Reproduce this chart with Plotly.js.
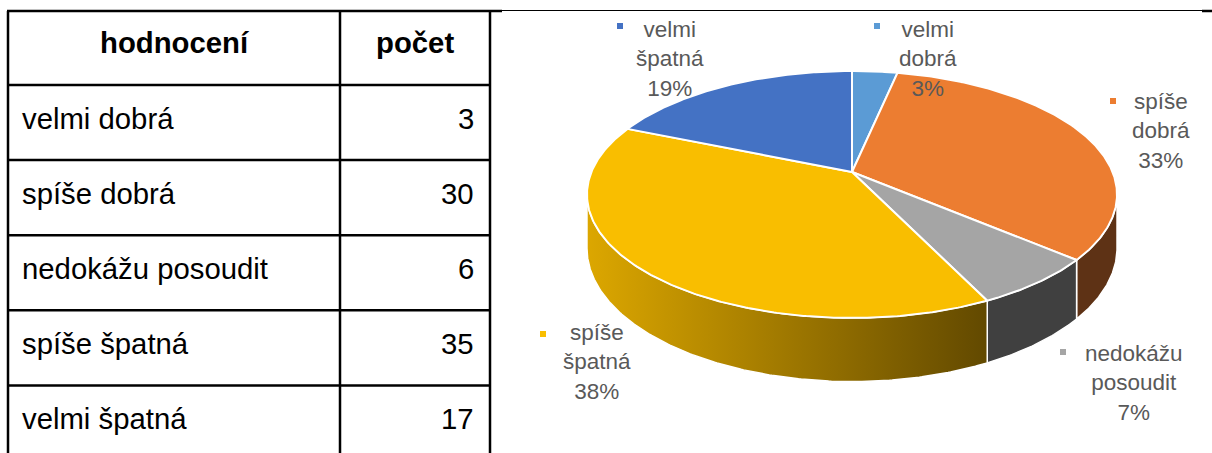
<!DOCTYPE html>
<html>
<head>
<meta charset="utf-8">
<script src="https://cdn.plot.ly/plotly-3.0.1.min.js"></script>
<style>html,body{margin:0;padding:0;background:#fff;}#chart{width:1212px;height:453px;}</style>
</head>
<body>
<div id="chart"></div>
<script>
// ---- data ----
const headers = ['hodnocení', 'počet'];
const categories = ['velmi dobrá', 'spíše dobrá', 'nedokážu posoudit', 'spíše špatná', 'velmi špatná'];
const counts = [3, 30, 6, 35, 17];

// ---- styles / layout config ----
const topColors = ['#5B9BD5', '#EC7D31', '#A5A5A5', '#F9BE00', '#4472C4'];
const wallColors = ['#3d6d9c', '#5E3215', '#404040', null, '#2f5597'];
const wallGradient = [[0, '#dca700'], [1, '#624900']];
const labelPos = [ // text centre (x, middle line y) and legend-key position
  {x: 928, y: 59, mx: 877, my: 26},
  {x: 1161, y: 131, mx: 1113, my: 101},
  {x: 1134, y: 383, mx: 1063, my: 352},
  {x: 597, y: 362, mx: 543, my: 334},
  {x: 670, y: 59, mx: 620, my: 26}
];
const tbl = {left: 8, col: 340, right: 490, top: 11, headH: 74, rowH: 75.1, textL: 20, textR: 476};
const pie = {cx: 852, cy: 172, A: 260.6, B: 119.4, k: 0.182, T: 52};

// ---- pie geometry (perspective ellipse) ----
function proj(th, drop) {
  const X = Math.sin(th), Z = -Math.cos(th);
  const w = 1 - pie.k * Z;
  return [pie.cx + pie.A * X / w, pie.cy + pie.B * Z / w + (drop ? pie.T / w : 0)];
}
function arc(a, b, drop) {
  const n = Math.max(2, Math.ceil(Math.abs(b - a) / (Math.PI / 360)));
  const pts = [];
  for (let i = 0; i <= n; i++) pts.push(proj(a + (b - a) * i / n, drop));
  return pts;
}
const total = counts.reduce((s, v) => s + v, 0);
const angles = [];
let acc = 0;
counts.forEach(v => { const a = acc / total * 2 * Math.PI; acc += v; angles.push([a, acc / total * 2 * Math.PI]); });
const visR = Math.acos(-pie.k), visL = 2 * Math.PI - visR;

const traces = [];
// walls
angles.forEach(([a, b], i) => {
  const lo = Math.max(a, visR), hi = Math.min(b, visL);
  if (lo >= hi) return;
  const pts = arc(lo, hi, false).concat(arc(hi, lo, true));
  pts.push(pts[0]);
  const t = {
    type: 'scatter', mode: 'lines', x: pts.map(p => p[0]), y: pts.map(p => p[1]),
    fill: 'toself', line: {color: '#ffffff', width: 1.5}, hoverinfo: 'skip', showlegend: false
  };
  if (wallColors[i]) t.fillcolor = wallColors[i];
  else t.fillgradient = {type: 'horizontal', colorscale: wallGradient};
  traces.push(t);
});
// top faces
angles.forEach(([a, b], i) => {
  const pts = [[pie.cx, pie.cy]].concat(arc(a, b, false));
  pts.push([pie.cx, pie.cy]);
  traces.push({
    type: 'scatter', mode: 'lines', x: pts.map(p => p[0]), y: pts.map(p => p[1]),
    fill: 'toself', fillcolor: topColors[i], line: {color: '#ffffff', width: 2},
    hoverinfo: 'skip', showlegend: false
  });
});
// legend keys of data labels
traces.push({
  type: 'scatter', mode: 'markers', x: labelPos.map(p => p.mx), y: labelPos.map(p => p.my),
  marker: {symbol: 'square', size: 6, color: topColors}, hoverinfo: 'skip', showlegend: false
});

// ---- annotations ----
const annotations = [];
const labelFont = {family: 'Liberation Sans, Arial, sans-serif', size: 22.5, color: '#595959'};
categories.forEach((c, i) => {
  const pct = Math.round(counts[i] / total * 100) + '%';
  annotations.push({
    x: labelPos[i].x, y: labelPos[i].y, xref: 'x', yref: 'y', showarrow: false,
    text: c.replace(' ', '<br>') + '<br>' + pct, align: 'center',
    xanchor: 'center', yanchor: 'middle', font: labelFont
  });
});
const tFont = {family: 'Liberation Sans, Arial, sans-serif', size: 29.3, color: '#000000'};
const hFont = {family: 'Liberation Sans, Arial, sans-serif', size: 29.3, color: '#000000'};
annotations.push({x: (tbl.left + tbl.col) / 2, y: tbl.top + 31, xref: 'x', yref: 'y', showarrow: false,
  text: '<b>' + headers[0] + '</b>', font: hFont, xanchor: 'center', yanchor: 'middle'});
annotations.push({x: (tbl.col + tbl.right) / 2, y: tbl.top + 31, xref: 'x', yref: 'y', showarrow: false,
  text: '<b>' + headers[1] + '</b>', font: hFont, xanchor: 'center', yanchor: 'middle'});
categories.forEach((c, i) => {
  const yc = tbl.top + tbl.headH + tbl.rowH * i + 33;
  annotations.push({x: tbl.textL, y: yc, xref: 'x', yref: 'y', showarrow: false,
    text: c, font: tFont, xanchor: 'left', yanchor: 'middle'});
  annotations.push({x: tbl.textR, y: yc, xref: 'x', yref: 'y', showarrow: false,
    text: String(counts[i]), font: tFont, xanchor: 'right', yanchor: 'middle'});
});

// ---- table lines ----
const shapes = [];
const bl = {color: '#000000', width: 2.5};
const nRows = categories.length + 1;
for (let r = 0; r < nRows; r++) {
  const y = r === 0 ? tbl.top : tbl.top + tbl.headH + tbl.rowH * (r - 1);
  shapes.push({type: 'line', xref: 'x', yref: 'y', x0: tbl.left - 1, x1: tbl.right + (r === 0 ? 12 : 1), y0: y, y1: y, line: bl});
}
[tbl.left, tbl.col, tbl.right].forEach(x => {
  shapes.push({type: 'line', xref: 'x', yref: 'y', x0: x, x1: x, y0: tbl.top, y1: 470, line: bl});
});
shapes.push({type: 'line', xref: 'x', yref: 'y', x0: tbl.right + 12, x1: 1202, y0: 10.5, y1: 10.5, line: {color: '#000000', width: 1.2}});
shapes.push({type: 'line', xref: 'x', yref: 'y', x0: 1202, x1: 1212, y0: 11, y1: 11, line: bl});

const layout = {
  width: 1212, height: 453,
  margin: {l: 0, r: 0, t: 0, b: 0},
  paper_bgcolor: '#ffffff', plot_bgcolor: '#ffffff',
  xaxis: {range: [0, 1212], visible: false, fixedrange: true},
  yaxis: {range: [453, 0], visible: false, fixedrange: true},
  showlegend: false,
  annotations: annotations,
  shapes: shapes
};
Plotly.newPlot('chart', traces, layout, {displayModeBar: false, staticPlot: true});
</script>
</body>
</html>
